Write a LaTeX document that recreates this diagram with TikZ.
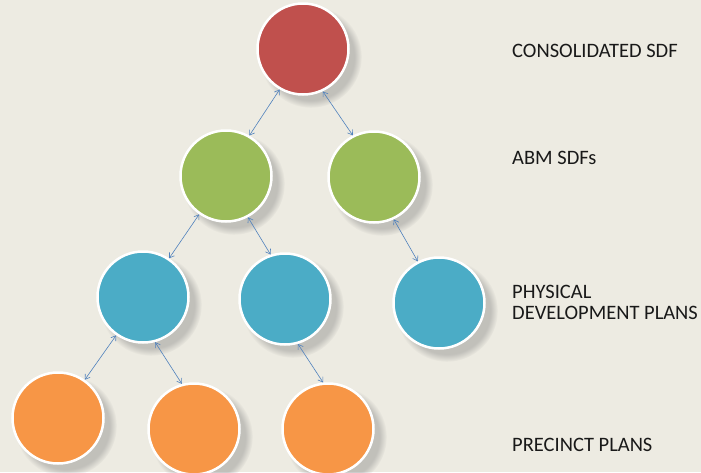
\documentclass[tikz,border=0pt]{standalone}
\usepackage{fontspec}
\setmainfont{Carlito}
\usetikzlibrary{arrows.meta,shadows}
\definecolor{bgc}{RGB}{237,235,226}
\definecolor{cred}{RGB}{192,80,77}
\definecolor{cgreen}{RGB}{155,187,89}
\definecolor{cblue}{RGB}{75,172,198}
\definecolor{corange}{RGB}{247,150,70}
\definecolor{carrow}{RGB}{79,129,189}
\tikzset{
  ball/.style={circle, minimum size=91pt, inner sep=0pt, draw=white, line width=2.5pt,
    circular drop shadow={shadow xshift=7pt, shadow yshift=-7pt, shadow scale=1.12, opacity=0.4}},
  link/.style={draw=carrow, line width=0.6pt, {Straight Barb[length=4.5pt,width=6pt]}-{Straight Barb[length=4.5pt,width=6pt]}},
  lab/.style={anchor=west, inner sep=0pt, font=\fontsize{20.5}{21.5}\selectfont, align=left, text=black!90}
}
\begin{document}
\begin{tikzpicture}[x=1pt,y=-1pt]
\fill[bgc] (0,0) rectangle (701,472);
\useasboundingbox (0,0) rectangle (701,472);
\node[ball, fill=cred] (r) at (303,49) {};
\node[ball, fill=cgreen] (gl) at (226,176) {};
\node[ball, fill=cgreen] (gr) at (374,177) {};
\node[ball, fill=cblue] (bl) at (143,297) {};
\node[ball, fill=cblue] (bm) at (285,299) {};
\node[ball, fill=cblue] (br) at (439,303) {};
\node[ball, fill=corange] (ol) at (58,418) {};
\node[ball, fill=corange] (om) at (194,429) {};
\node[ball, fill=corange] (or) at (328,429) {};
\draw[link] (r.240) -- (gl.60);
\draw[link] (r.295) -- (gr.117);
\draw[link] (gl.235) -- (bl.56);
\draw[link] (gl.298) -- (bm.108);
\draw[link] (gr.295) -- (br.117);
\draw[link] (bl.235) -- (ol.55);
\draw[link] (bl.285) -- (om.105);
\draw[link] (bm.286) -- (or.96);
\node[lab] (t1) at (512,51) {CONSOLIDATED SDF};
\node[lab] (t2) at (512,158) {ABM SDFs};
\node[lab] (t3) at (512,302.5) {PHYSICAL\\DEVELOPMENT PLANS};
\node[lab] (t4) at (512,445) {PRECINCT PLANS};
\end{tikzpicture}
\end{document}
